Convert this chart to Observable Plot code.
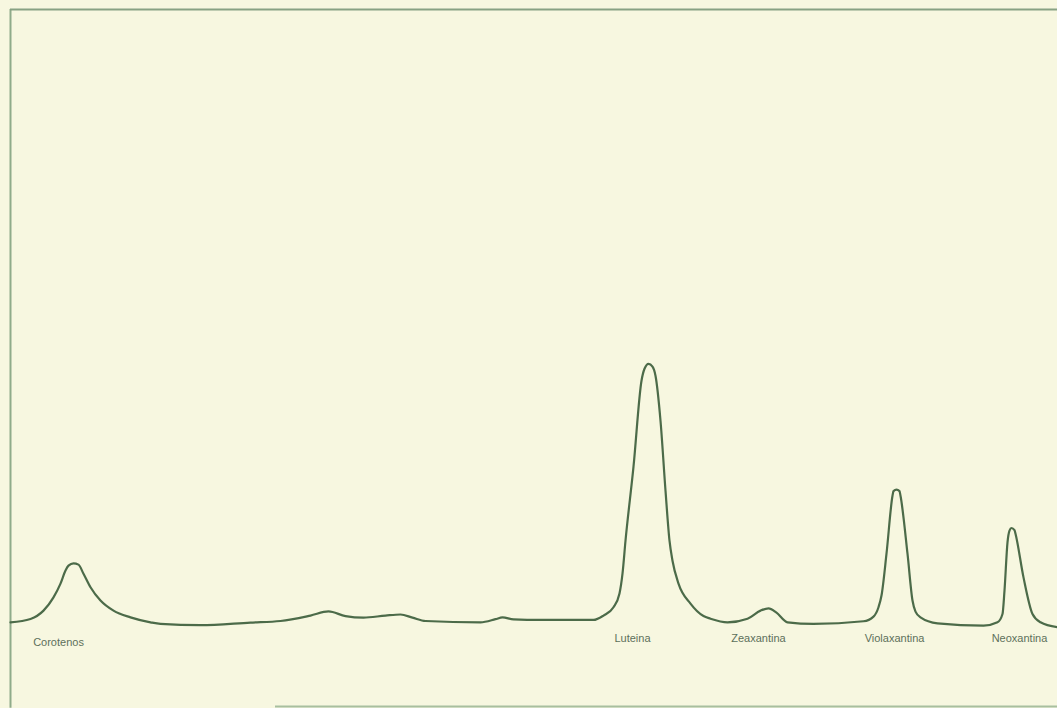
<!DOCTYPE html>
<html>
<head>
<meta charset="utf-8">
<script src="https://cdn.jsdelivr.net/npm/d3@7"></script>
<script src="https://cdn.jsdelivr.net/npm/@observablehq/plot@0.6"></script>
<style>
  html, body { margin: 0; padding: 0; background: #f7f7e0; }
  #chart { width: 1057px; height: 708px; overflow: hidden; }
</style>
</head>
<body>
<div id="chart"></div>
<script>
// Retention time (arbitrary minutes) and relative absorbance (Luteina peak ≈ 100)
const time = [0, 1.0, 1.65, 2.15, 2.5, 2.75, 2.9, 3.15, 3.4, 3.65, 4.0, 4.5, 5.15, 6.0, 7.0, 7.5, 9.5, 12, 13.5, 15, 15.9, 16.75, 17.65, 18.75, 19.5, 20.1, 20.75, 23.5, 24.25, 24.6, 25.15, 26.5, 29.15, 29.65, 30.15, 30.45, 30.6, 30.75, 31.15, 31.55, 31.7, 31.9, 32.1, 32.25, 32.5, 32.75, 32.95, 33.1, 33.4, 34.0, 34.65, 35.0, 35.85, 36.85, 37.5, 37.9, 38.3, 38.85, 40.15, 42.65, 43.15, 43.4, 43.55, 43.8, 44.1, 44.15, 44.3, 44.45, 44.5, 44.85, 45.1, 45.25, 45.5, 46.35, 48.65, 49.35, 49.6, 49.7, 49.85, 49.95, 50.05, 50.2, 50.25, 50.65, 51.1, 51.5, 52.35];
const absorbance = [0.1, 1.4, 4.6, 9.7, 15, 20, 21.9, 22.8, 22.3, 18.8, 13.6, 8.5, 4.6, 2.0, 0.1, -0.5, -1.0, 0, 0.6, 2.7, 4.3, 2.5, 1.9, 2.7, 3.1, 1.9, 0.6, 0.1, 1.3, 2.0, 1.2, 1.0, 1.0, 2.7, 5.9, 11.2, 18.8, 31.5, 60, 93.1, 97.7, 99.6, 98.5, 95, 77.7, 50.8, 31.5, 23.8, 15, 7.3, 2.5, 1.5, 0.1, 1.5, 4.6, 5.5, 3.8, 0.1, -0.5, 0.5, 2.3, 5.9, 10.4, 26.5, 48.8, 50.6, 51.2, 50.6, 48.8, 26.5, 8.5, 4.2, 2.0, -0.3, -1.2, 0.1, 3.3, 12.3, 30.9, 35.4, 36.4, 35.6, 34.2, 17.4, 3.3, 0.1, -1.8];

// Peak labels
const pigments = ["Corotenos", "Luteina", "Zeaxantina", "Violaxantina", "Neoxantina"];
const labelTime = [2.4, 31.1, 37.4, 44.2, 50.45];
const labelAbs = [-7.6, -6.2, -6.2, -6.2, -6.2];

const trace = time.map((t, i) => ({t, a: absorbance[i]}));
const labels = pigments.map((name, i) => ({name, t: labelTime[i], a: labelAbs[i]}));

const xDomain = [0, 52.35];
const yDomain = [-30, 236];

const plot = Plot.plot({
  width: 1057,
  height: 708,
  marginLeft: 10,
  marginRight: 0,
  marginTop: 9,
  marginBottom: 8,
  x: {domain: xDomain, axis: null},
  y: {domain: yDomain, axis: null},
  style: {background: "#f7f7e0", overflow: "visible"},
  marks: [
    Plot.ruleX([xDomain[0]], {y1: yDomain[1], y2: -33, stroke: "#8fab8a", strokeWidth: 2}),
    Plot.ruleY([yDomain[1]], {x1: xDomain[0], x2: xDomain[1], stroke: "#88a283", strokeWidth: 2}),
    Plot.ruleY([-32.3], {x1: 13.25, x2: xDomain[1], stroke: "#a8bf9f", strokeWidth: 2}),
    Plot.line(trace, {x: "t", y: "a", curve: "monotone-x", stroke: "#4c6b49", strokeWidth: 2.2, strokeLinejoin: "round"}),
    Plot.text(labels, {x: "t", y: "a", text: "name", fill: "#5d705b", fontSize: 11, fontFamily: "Liberation Sans, Arial, sans-serif", style: "letter-spacing:1px"})
  ]
});
document.getElementById("chart").appendChild(plot);
</script>
</body>
</html>
